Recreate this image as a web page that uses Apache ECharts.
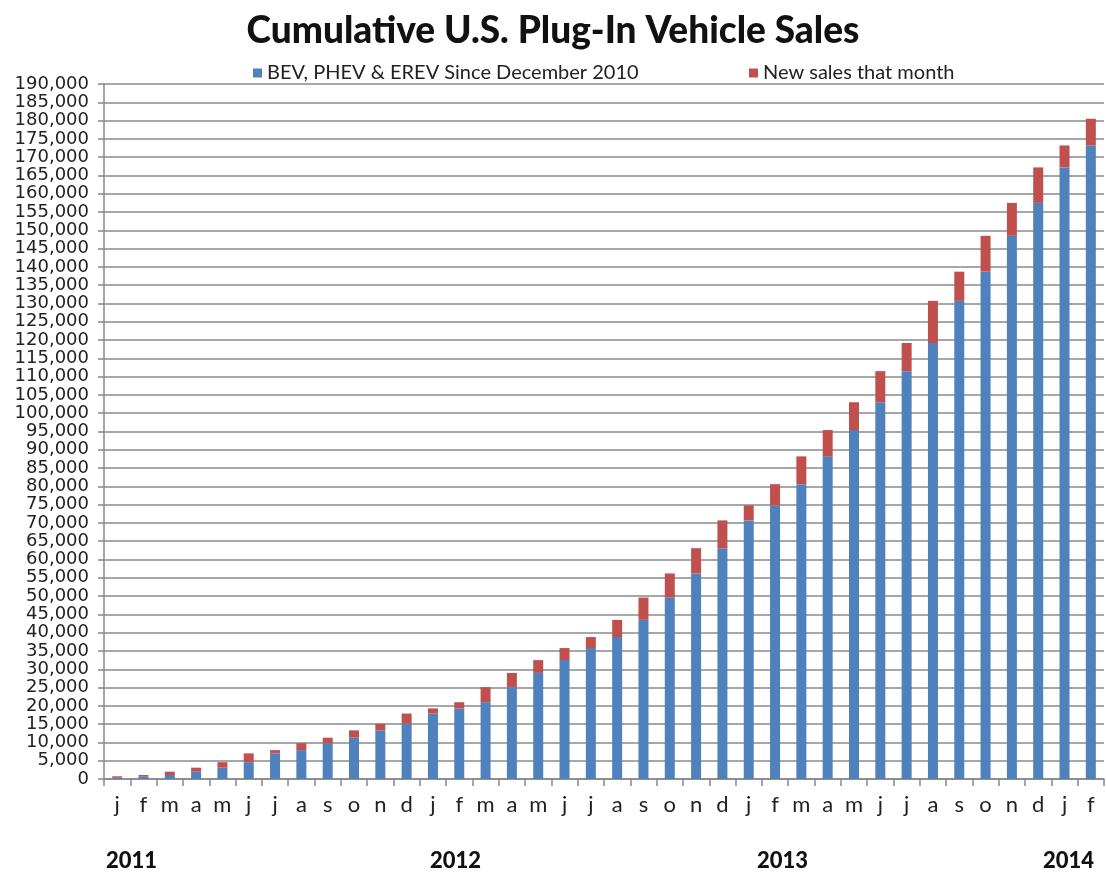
<!DOCTYPE html>
<html>
<head>
<meta charset="utf-8">
<script src="https://cdn.jsdelivr.net/npm/echarts@6/dist/echarts.min.js"></script>
<style>
html,body{margin:0;padding:0;background:#fff;}
#chart{width:1106px;height:882px;}
</style>
</head>
<body>
<div id="chart"></div>
<script>
const categories = ['j','f','m','a','m','j','j','a','s','o','n','d',
  'j','f','m','a','m','j','j','a','s','o','n','d',
  'j','f','m','a','m','j','j','a','s','o','n','d',
  'j','f'];
const years = ['2011','2012','2013','2014'];
const cumulativeSince2010 = [350, 750, 1100, 2000, 3100, 4600, 7000, 7900, 9800, 11300, 13300, 15100,
  17900, 19300, 21000, 25100, 29000, 32500, 35800, 38800, 43500, 49600, 56200, 63100,
  70700, 74800, 80600, 88200, 95400, 103000, 111500, 119200, 130700, 138700, 148500, 157500,
  167200, 173200];
const newSalesThatMonth = [400, 350, 900, 1100, 1500, 2400, 900, 1900, 1500, 2000, 1800, 2800,
  1400, 1700, 4100, 3900, 3500, 3300, 3000, 4700, 6100, 6600, 6900, 7600,
  4100, 5800, 7600, 7200, 7600, 8500, 7700, 11500, 8000, 9800, 9000, 9700,
  6000, 7300];
const seriesNames = ['BEV, PHEV & EREV Since December 2010', 'New sales that month'];

const chart = echarts.init(document.getElementById('chart'));
const gillLike = 'Lato, "Open Sans", sans-serif';
const option = {
  backgroundColor: '#ffffff',
  animation: false,
  title: {
    text: 'Cumulative U.S. Plug-In Vehicle Sales',
    left: 'center',
    top: 8,
    textStyle: {fontFamily: gillLike, fontWeight: 900, fontSize: 37, color: '#111'}
  },
  legend: [
    {data: [seriesNames[0]], left: 248, top: 58, icon: 'rect', itemWidth: 9, itemHeight: 9, itemGap: 6,
     textStyle: {fontFamily: gillLike, fontSize: 20, color: '#222'}},
    {data: [seriesNames[1]], left: 744, top: 58, icon: 'rect', itemWidth: 9, itemHeight: 9, itemGap: 6,
     textStyle: {fontFamily: gillLike, fontSize: 20, color: '#222'}}
  ],
  grid: {left: 104, right: 2, top: 84, bottom: 103, containLabel: false},
  xAxis: {
    type: 'category',
    data: categories,
    axisLine: {lineStyle: {color: '#888', width: 1.5}},
    axisTick: {show: true, length: 7, lineStyle: {color: '#888', width: 1.5}, alignWithLabel: false},
    axisLabel: {fontFamily: gillLike, fontSize: 22, color: '#222', margin: 15, interval: 0}
  },
  yAxis: {
    type: 'value',
    min: 0, max: 190000, interval: 5000,
    axisLine: {show: true, lineStyle: {color: '#888', width: 1.5}},
    axisTick: {show: true, length: 6, lineStyle: {color: '#888', width: 1.5}},
    axisLabel: {fontFamily: '"DejaVu Sans", Verdana, sans-serif', fontSize: 18, color: '#222', margin: 15,
      formatter: v => v.toLocaleString('en-US')},
    splitLine: {lineStyle: {color: '#8a8a8a', width: 1.5}}
  },
  series: [
    {name: seriesNames[0], type: 'bar', stack: 'total', data: cumulativeSince2010, barWidth: 10,
     itemStyle: {color: '#4F81BD'}},
    {name: seriesNames[1], type: 'bar', stack: 'total', data: newSalesThatMonth, barWidth: 10,
     itemStyle: {color: '#C0504D'}}
  ],
  graphic: [
    {type: 'text', left: 106, top: 850, style: {text: years[0], font: '900 22px Lato, sans-serif', fill: '#111'}},
    {type: 'text', left: 430, top: 850, style: {text: years[1], font: '900 22px Lato, sans-serif', fill: '#111'}},
    {type: 'text', left: 757, top: 850, style: {text: years[2], font: '900 22px Lato, sans-serif', fill: '#111'}},
    {type: 'text', left: 1043, top: 850, style: {text: years[3], font: '900 22px Lato, sans-serif', fill: '#111'}}
  ]
};
chart.setOption(option);
</script>
</body>
</html>
